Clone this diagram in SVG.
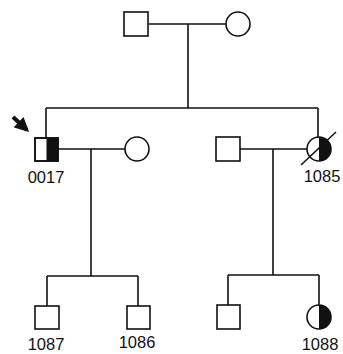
<svg xmlns="http://www.w3.org/2000/svg" width="343" height="354" viewBox="0 0 343 354">
<style>
.s{fill:#fff;stroke:#111;stroke-width:1.6}
.f{fill:#111;stroke:none}
.l{fill:none;stroke:#111;stroke-width:1.6}
text{font-family:"Liberation Sans",Arial,sans-serif;font-size:16.5px;fill:#111;text-anchor:middle}
</style>
<defs>
<marker id="ah" viewBox="0 0 10 10" refX="8" refY="5" markerWidth="3.6" markerHeight="3.6" orient="auto"><path d="M0,0 L10,5 L0,10 z" fill="#111"/></marker>
</defs>
<g id="connectors">
<path class="l" d="M149,24 H226 M188,24 V108 M46,108 H318 M46,108 V138 M318,108 V137"/>
<path class="l" d="M58,149 H125 M91,149 V276 M47,276 H138 M47,276 V306 M138,276 V306"/>
<path class="l" d="M240,149 H307 M273,149 V275 M228,275 H319 M228,275 V305 M319,275 V305"/>
</g>
<g id="n-gf"><rect class="s" x="124" y="12" width="24" height="24"/></g>
<g id="n-gm"><circle class="s" cx="238" cy="24" r="12"/></g>
<g id="n0017">
<rect class="s" x="35" y="138" width="23" height="23"/>
<rect class="f" x="46.5" y="138" width="11.5" height="23"/>
<rect class="l" x="35" y="138" width="23" height="23"/>
<line x1="13" y1="117" x2="27" y2="130" stroke="#111" stroke-width="4" marker-end="url(#ah)"/>
<text x="46" y="183">0017</text>
</g>
<g id="n-wife"><circle class="s" cx="137" cy="149" r="12"/></g>
<g id="n-husb"><rect class="s" x="216" y="137" width="24" height="24"/></g>
<g id="n1085">
<circle class="s" cx="319" cy="149" r="12"/>
<path class="f" d="M319,137 A12,12 0 0 1 319,161 Z"/>
<line class="l" x1="301" y1="165" x2="336" y2="132"/>
<text x="322" y="182">1085</text>
</g>
<g id="n1087"><rect class="s" x="35" y="306" width="24" height="23"/><text x="46" y="350">1087</text></g>
<g id="n1086"><rect class="s" x="127" y="306" width="23" height="23"/><text x="137" y="348">1086</text></g>
<g id="n-son"><rect class="s" x="217" y="305" width="23" height="24"/></g>
<g id="n1088">
<circle class="s" cx="319" cy="317" r="12"/>
<path class="f" d="M319,305 A12,12 0 0 1 319,329 Z"/>
<text x="320" y="350">1088</text>
</g>
</svg>
